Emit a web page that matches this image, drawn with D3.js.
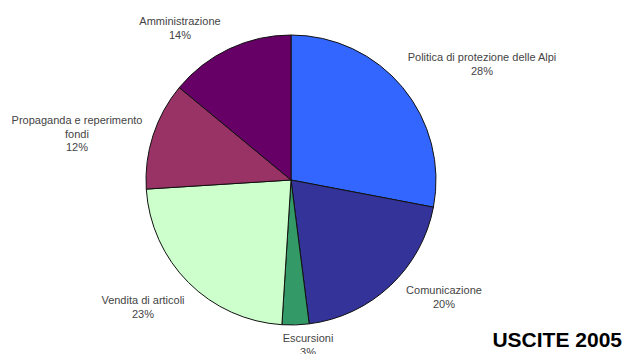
<!DOCTYPE html>
<html>
<head>
<meta charset="utf-8">
<script src="https://cdn.jsdelivr.net/npm/d3@7"></script>
<style>
  body { margin: 0; background: #fff; }
  svg { display: block; }
</style>
</head>
<body>
<div id="chart"></div>
<script>
// data
var categories = ["Politica di protezione delle Alpi", "Comunicazione", "Escursioni",
  "Vendita di articoli", "Propaganda e reperimento fondi", "Amministrazione"];
var values = [28, 20, 3, 23, 12, 14];
var labelLines = [
  ["Politica di protezione delle Alpi"],
  ["Comunicazione"],
  ["Escursioni"],
  ["Vendita di articoli"],
  ["Propaganda e reperimento", "fondi"],
  ["Amministrazione"]
];
var title = "USCITE 2005";

// layout (label anchor = centre x, first baseline y)
var colors = ["#3366ff", "#333399", "#339966", "#ccffcc", "#993366", "#660066"];
var labelPos = [[482, 61], [444, 294], [308, 342], [143, 304], [77, 124], [180, 25]];

var width = 624, height = 354;
var cx = 291, cy = 180, radius = 145;

var svg = d3.select("#chart")
    .append("svg")
    .attr("width", width)
    .attr("height", height);

var pie = d3.pie()
    .sort(null)
    .value(function(d) { return d; });

var arc = d3.arc()
    .innerRadius(0)
    .outerRadius(radius);

var g = svg.append("g")
    .attr("transform", "translate(" + cx + "," + cy + ")");

g.selectAll("path")
    .data(pie(values))
    .enter()
    .append("path")
    .attr("d", arc)
    .style("fill", function(d, i) { return colors[i]; })
    .style("stroke", "#111")
    .style("stroke-width", 1);

// labels
var labels = svg.append("g")
    .selectAll("text")
    .data(categories)
    .enter()
    .append("text")
    .attr("text-anchor", "middle")
    .attr("font-family", "Liberation Sans, Arial, sans-serif")
    .attr("font-size", 11)
    .attr("fill", "#444");

labels.each(function(d, i) {
  var t = d3.select(this);
  var lines = labelLines[i].concat([values[i] + "%"]);
  lines.forEach(function(line, j) {
    t.append("tspan")
        .attr("x", labelPos[i][0])
        .attr("y", labelPos[i][1] + j * 13.5)
        .text(line);
  });
});

svg.append("text")
    .attr("x", 622)
    .attr("y", 347)
    .attr("text-anchor", "end")
    .attr("font-family", "Liberation Sans, Arial, sans-serif")
    .attr("font-weight", "bold")
    .attr("font-size", 21)
    .attr("fill", "#000")
    .text(title);
</script>
</body>
</html>
